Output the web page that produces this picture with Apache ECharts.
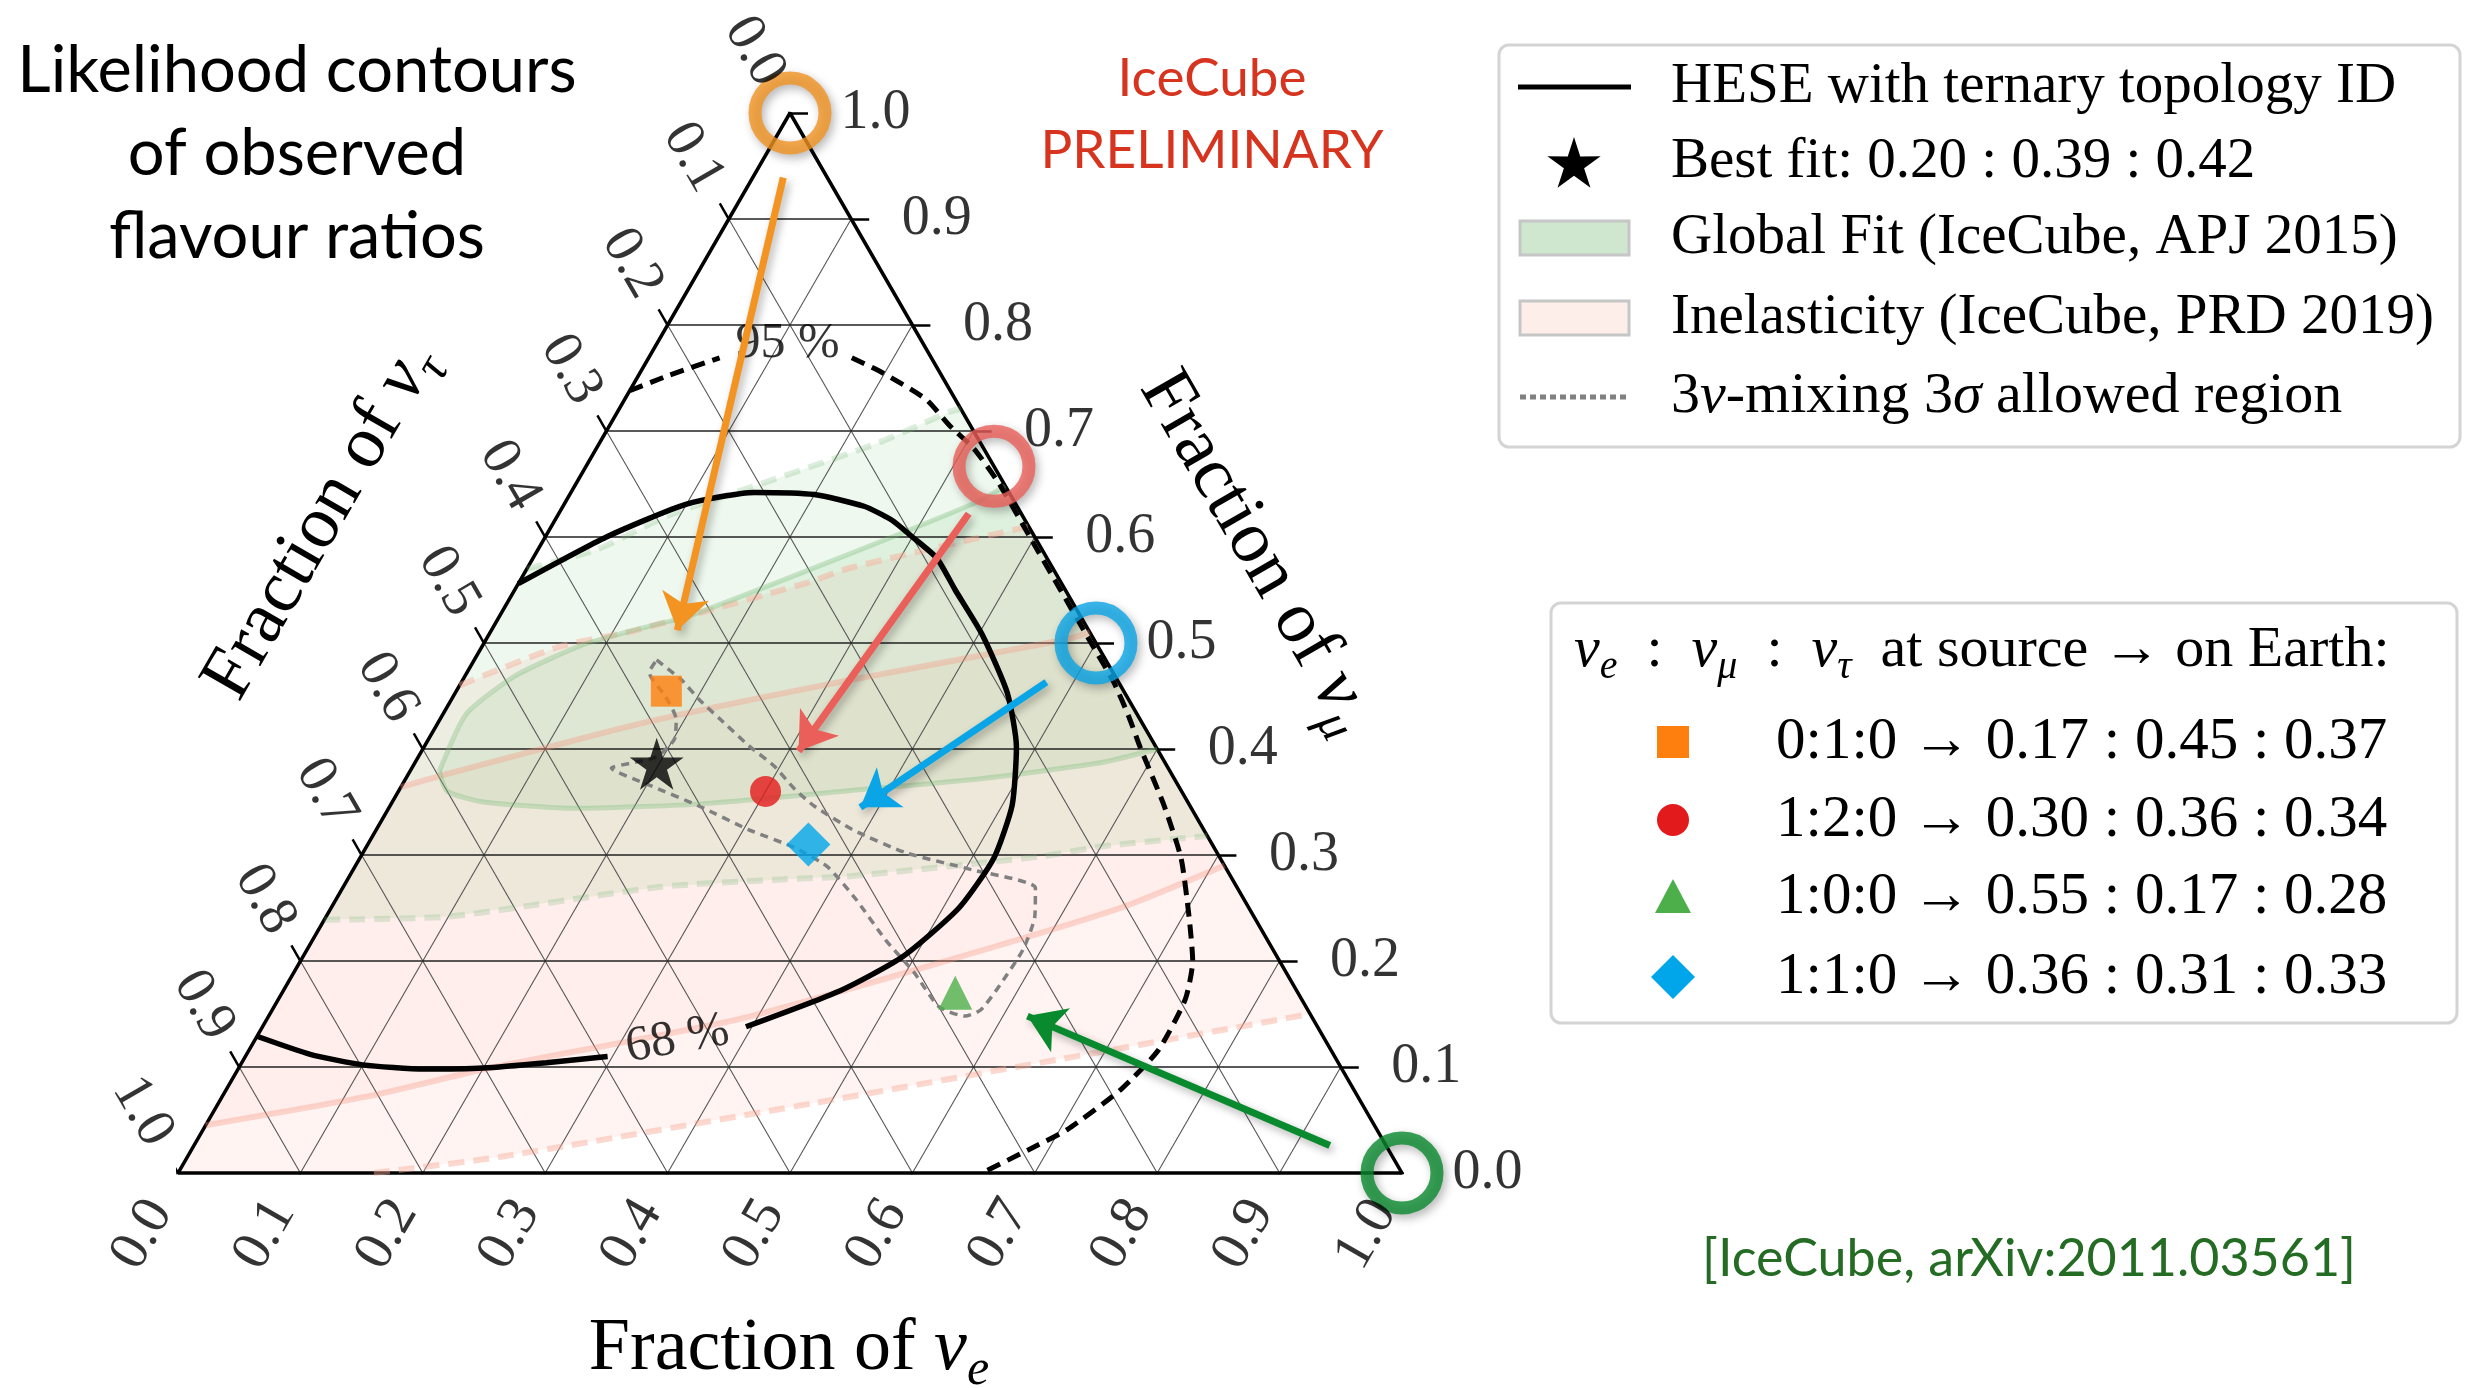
<!DOCTYPE html>
<html>
<head>
<meta charset="utf-8">
<title>Flavour ratio likelihood contours</title>
<script type="text/javascript" src="https://cdn.jsdelivr.net/npm/echarts@6.0.0/dist/echarts.min.js"></script>
<style type="text/css">
html,body{margin:0;padding:0;background:#fff;}
#ternary{width:2468px;height:1388px;}
</style>
</head>
<body>
<div id="ternary"></div>
<script type="text/javascript">
// axis ticks (same for the three sides)
var ticks = [0, 0.1, 0.2, 0.3, 0.4, 0.5, 0.6, 0.7, 0.8, 0.9, 1.0];
var tickLabels = ['0.0', '0.1', '0.2', '0.3', '0.4', '0.5', '0.6', '0.7', '0.8', '0.9', '1.0'];

// all curves are [nu_e, nu_mu] fractions, nu_tau = 1 - the two
var hese68a = [[0.000,0.556],[0.050,0.600],[0.100,0.631],[0.150,0.642],[0.200,0.640],[0.246,0.629],[0.275,0.616],[0.300,0.600],[0.330,0.580],[0.360,0.550],[0.403,0.508],[0.451,0.453],[0.484,0.402],[0.508,0.347],[0.518,0.297],[0.513,0.250],[0.490,0.204],[0.455,0.172],[0.395,0.138]];
var hese68b = [[0.296,0.110],[0.249,0.104],[0.200,0.099],[0.152,0.098],[0.100,0.102],[0.052,0.112],[0.000,0.129]];
var hese95a = [[0.000,0.738],[0.024,0.752],[0.058,0.769]];
var hese95b = [[0.166,0.769],[0.198,0.755],[0.246,0.730],[0.278,0.705],[0.309,0.683],[0.346,0.650],[0.396,0.600],[0.446,0.550],[0.496,0.500],[0.533,0.463],[0.562,0.430],[0.585,0.402],[0.632,0.347],[0.671,0.297],[0.705,0.242],[0.729,0.200],[0.741,0.164],[0.743,0.116],[0.731,0.079],[0.706,0.041],[0.684,0.022],[0.657,0.000]];

var globalUp95 = [[0.000,0.570],[0.048,0.588],[0.090,0.620],[0.153,0.651],[0.228,0.689],[0.271,0.718],[0.279,0.721]];
var globalLow95 = [[0.000,0.239],[0.101,0.242],[0.260,0.270],[0.355,0.277],[0.409,0.280],[0.558,0.299],[0.600,0.308],[0.682,0.318]];
var globalUp68 = [[0.024,0.379],[0.019,0.433],[0.041,0.469],[0.081,0.498],[0.127,0.516],[0.154,0.525],[0.250,0.580],[0.335,0.632],[0.352,0.648]];
var globalLow68 = [[0.024,0.379],[0.040,0.360],[0.075,0.350],[0.152,0.344],[0.251,0.348],[0.380,0.362],[0.470,0.372],[0.560,0.387],[0.600,0.400]];

var inelUp95 = [[0.000,0.460],[0.062,0.496],[0.118,0.512],[0.236,0.557],[0.264,0.571],[0.390,0.610]];
var inelLow95 = [[0.160,0.000],[0.255,0.015],[0.487,0.066],[0.700,0.115],[0.850,0.150]];
var inelUp68 = [[0.000,0.364],[0.033,0.377],[0.172,0.426],[0.316,0.465],[0.473,0.503],[0.490,0.510]];
var inelLow68 = [[0.000,0.045],[0.118,0.072],[0.205,0.099],[0.385,0.145],[0.520,0.197],[0.645,0.250],[0.710,0.290]];

var mixing3s = [[0.149,0.484],[0.179,0.465],[0.202,0.447],[0.229,0.428],[0.265,0.403],[0.295,0.384],[0.323,0.362],[0.347,0.346],[0.389,0.324],[0.444,0.302],[0.506,0.286],[0.566,0.269],[0.579,0.242],[0.585,0.211],[0.583,0.179],[0.579,0.154],[0.569,0.148],[0.543,0.157],[0.507,0.189],[0.468,0.220],[0.425,0.258],[0.386,0.289],[0.350,0.307],[0.304,0.324],[0.253,0.346],[0.202,0.366],[0.163,0.382],[0.178,0.387],[0.195,0.393],[0.201,0.409],[0.193,0.428],[0.173,0.450],[0.149,0.472],[0.149,0.484]];

var contourTags = ['68 %', '95 %'];
var contourTagAt = [[0.345,0.126], [0.107,0.782]];
var contourTagRot = [10, 0];

var bestFit = [0.20, 0.39, 0.42];
var sourceRatios = ['0:1:0', '1:2:0', '1:0:0', '1:1:0'];
var sourcePoints = [[0, 1], [1/3, 2/3], [1, 0], [0.5, 0.5]];
var earthRatios = [[0.17, 0.45, 0.37], [0.30, 0.36, 0.34], [0.55, 0.17, 0.28], [0.36, 0.31, 0.33]];
var arrowFrom = [[0.025, 0.939], [0.335, 0.622], [0.928, 0.026], [0.478, 0.463]];
var arrowTo = [[0.152, 0.512], [0.308, 0.398], [0.620, 0.148], [0.385, 0.345]];

var ringColors = ['#f39322', '#ea5f59', '#0a8a2e', '#0aa5e6'];
var markColors = ['#ff7f0e', '#e31a1c', '#4daf4a', '#00a5ea'];
var markSymbols = ['rect', 'circle', 'triangle', 'diamond'];
var markSizes = [31, 31, 34, 44];

var S = Math.sqrt(3) / 2;
var PX = 1224;          // pixels for one side of the triangle
var serif = 'Liberation Serif';
var starPath = 'path://M50,0L61.17,34.63L97.55,34.55L68.07,55.87L79.39,90.45L50,69L20.61,90.45L31.93,55.87L2.45,34.55L38.83,34.63Z';

function tern(p) {
    var s = p.length > 2 ? p[0] + p[1] + p[2] : 1;
    var e = p[0] / s, m = p[1] / s;
    return [e + m / 2, m * S];
}

function curve(pts, color, width, dash, z, smooth) {
    return {
        type: 'line', data: pts.map(tern), symbol: 'none', showSymbol: false, clip: false,
        silent: true, z: z, smooth: smooth === undefined ? 0.2 : smooth,
        lineStyle: {color: color, width: width, type: dash || 'solid'}
    };
}

function area(pts, fill, z) {
    return {
        type: 'custom', coordinateSystem: 'cartesian2d', silent: true, z: z, data: [[0, 0]],
        renderItem: function (params, api) {
            return {
                type: 'polygon',
                shape: {points: pts.map(function (p) { return api.coord(tern(p)); })},
                style: {fill: fill}
            };
        }
    };
}

// grid lines and ticks
var gridFlat = [], gridSlant = [], tickSegs = [];
var T = 18 / PX;
ticks.forEach(function (v, i) {
    if (i > 0 && i < ticks.length - 1) {
        gridFlat.push({coords: [tern([0, v]), tern([1 - v, v])]});
        gridSlant.push({coords: [tern([v, 0]), tern([v, 1 - v])]});
        gridSlant.push({coords: [tern([1 - v, 0]), tern([0, 1 - v])]});
    }
    var b = tern([v, 0]);
    tickSegs.push({coords: [b, [b[0] - 0.5 * T, b[1] - S * T]]});
    var l = tern([0, 1 - v]);
    tickSegs.push({coords: [l, [l[0] - 0.5 * T, l[1] + S * T]]});
    var r = tern([1 - v, v]);
    tickSegs.push({coords: [r, [r[0] + T, r[1]]]});
});

var D = 36 / PX;
var bottomAt = ticks.map(function (v) { var b = tern([v, 0]); return [b[0] - 0.5 * D, b[1] - S * D]; });
var leftAt = ticks.map(function (v) { var l = tern([0, 1 - v]); return [l[0] - 0.5 * D, l[1] + S * D]; });
var rightAt = ticks.map(function (v) { return tern([1 - v, v]); });

function tickLabelSeries(data, label) {
    label.show = true;
    label.formatter = function (p) { return tickLabels[p.dataIndex]; };
    label.fontFamily = serif;
    label.fontSize = 56;
    label.color = '#000';
    return {
        type: 'scatter', data: data, symbolSize: 1, clip: false, silent: true, z: 10,
        itemStyle: {color: 'rgba(0,0,0,0)'}, label: label
    };
}

function segs(data, color, width, z) {
    return {
        type: 'lines', coordinateSystem: 'cartesian2d', data: data, silent: true, z: z,
        lineStyle: {color: color, width: width, opacity: 1, curveness: 0}
    };
}

var series = [
    area(inelUp95.concat([[0.850, 0.150]], inelLow95.slice().reverse(), [[0, 0]]), 'rgba(250,128,114,0.09)', 1),
    area(inelUp68.concat(inelLow68.slice().reverse()), 'rgba(250,128,114,0.05)', 1),
    area(globalUp95.concat(globalLow95.slice().reverse()), 'rgba(44,160,44,0.08)', 1),
    area(globalUp68.concat(globalLow68.slice().reverse()), 'rgba(44,160,44,0.08)', 1),
    segs(gridSlant, '#555', 1.1, 2),
    segs(gridFlat, '#222', 1.5, 2),
    segs(tickSegs, '#000', 2.5, 2),
    curve([[0, 0], [1, 0], [0, 1], [0, 0]], '#000', 3.5, 'solid', 3, 0),
    curve(inelUp95, 'rgba(248,170,150,0.45)', 6, [16, 9], 3),
    curve(inelLow95, 'rgba(248,170,150,0.45)', 6, [16, 9], 3),
    curve(inelUp68, 'rgba(245,150,130,0.35)', 6, 'solid', 3),
    curve(inelLow68, 'rgba(245,150,130,0.35)', 6, 'solid', 3),
    curve(globalUp95, 'rgba(120,185,120,0.25)', 6, [16, 9], 3),
    curve(globalLow95, 'rgba(120,185,120,0.25)', 6, [16, 9], 3),
    curve(globalUp68, 'rgba(120,185,120,0.35)', 5, 'solid', 3),
    curve(globalLow68, 'rgba(120,185,120,0.35)', 5, 'solid', 3),
    curve(mixing3s, '#808080', 3.5, [8, 6], 4),
    curve(hese68a, '#000', 5.5, 'solid', 5),
    curve(hese68b, '#000', 5.5, 'solid', 5),
    curve(hese95a, '#000', 5, [14, 8], 5),
    curve(hese95b, '#000', 5, [14, 8], 5),
    {
        type: 'scatter', clip: false, silent: true, z: 6,
        data: contourTags.map(function (t, i) { return {value: tern(contourTagAt[i]), label: {rotate: contourTagRot[i]}}; }),
        symbolSize: 1, itemStyle: {color: 'rgba(0,0,0,0)'},
        label: {show: true, position: 'inside', fontFamily: serif, fontSize: 50, color: '#000',
            formatter: function (p) { return contourTags[p.dataIndex]; }}
    },
    {
        type: 'scatter', clip: false, silent: true, z: 7,
        data: earthRatios.map(function (r, i) {
            return {value: tern(r), symbol: markSymbols[i], symbolSize: markSizes[i], itemStyle: {color: markColors[i]}};
        })
    },
    {
        type: 'scatter', clip: false, silent: true, z: 7, symbol: starPath, symbolSize: [54, 52],
        data: [tern(bestFit)], itemStyle: {color: '#000'}
    }
];

arrowFrom.forEach(function (a, i) {
    series.push({
        type: 'lines', coordinateSystem: 'cartesian2d', silent: true, z: 8,
        symbol: ['none', 'arrow'], symbolSize: [0, 36],
        data: [{coords: [tern(a), tern(arrowTo[i])]}],
        lineStyle: {color: ringColors[i], width: 7, opacity: 1, curveness: 0,
            shadowBlur: 8, shadowColor: 'rgba(0,0,0,0.3)', shadowOffsetX: 3, shadowOffsetY: 4}
    });
});

series.push({
    type: 'scatter', clip: false, silent: true, z: 9, symbol: 'circle', symbolSize: 70,
    data: sourcePoints.map(function (p, i) { return {value: tern(p), itemStyle: {borderColor: ringColors[i]}}; }),
    itemStyle: {color: 'rgba(255,255,255,0)', borderWidth: 13,
        shadowBlur: 10, shadowColor: 'rgba(0,0,0,0.35)', shadowOffsetX: 3, shadowOffsetY: 4}
});

series.push(tickLabelSeries(bottomAt, {position: 'inside', align: 'right', verticalAlign: 'middle', rotate: 60}));
series.push(tickLabelSeries(leftAt, {position: 'inside', align: 'right', verticalAlign: 'middle', rotate: -60}));
series.push(tickLabelSeries(rightAt, {position: 'right', distance: 50}));

// text pieces with greek subscripts
var richSerif = {
    t: {fontFamily: serif, fontSize: 58, lineHeight: 72, fill: '#000'},
    nu: {fontFamily: serif, fontSize: 58, lineHeight: 72, fontStyle: 'italic', fill: '#000'},
    sb: {fontFamily: serif, fontSize: 40, lineHeight: 40, fontStyle: 'italic', verticalAlign: 'bottom', fill: '#000'}
};
var richTitle = {
    t: {fontFamily: serif, fontSize: 74, lineHeight: 92, fill: '#000'},
    nu: {fontFamily: serif, fontSize: 74, lineHeight: 92, fontStyle: 'italic', fill: '#000'},
    sb: {fontFamily: serif, fontSize: 50, lineHeight: 50, fontStyle: 'italic', verticalAlign: 'bottom', fill: '#000'}
};

function txt(x, y, text, opts) {
    var st = {text: text, fill: '#000', align: opts.align || 'left', verticalAlign: 'middle'};
    if (opts.font) st.font = opts.font;
    if (opts.rich) st.rich = opts.rich;
    if (opts.fill) st.fill = opts.fill;
    if (opts.lineHeight) st.lineHeight = opts.lineHeight;
    return {type: 'text', x: x, y: y, rotation: opts.rotation || 0, z: 20, style: st};
}

var rowY1 = [87, 162, 238, 318, 397];
var rowY2 = [742, 820, 897, 977];
var legendFont = '57px "Liberation Serif"';
var ratioFont = '59px "Liberation Serif"';

function starPoints(cx, cy, r) {
    var pts = [];
    for (var k = 0; k < 10; k++) {
        var a = -Math.PI / 2 + k * Math.PI / 5, rr = k % 2 ? r * 0.38 : r;
        pts.push([cx + rr * Math.cos(a), cy + rr * Math.sin(a)]);
    }
    return pts;
}

var graphics = [
    txt(297, 154, 'Likelihood contours\nof observed\nflavour ratios', {font: '65px Lato', align: 'center', lineHeight: 83}),
    txt(1212, 79, 'IceCube', {font: '53px Lato', align: 'center', fill: '#d6341f'}),
    txt(1212, 151, 'PRELIMINARY', {font: '53px Lato', align: 'center', fill: '#d6341f'}),
    txt(2029, 1259, '[IceCube, arXiv:2011.03561]', {font: '52px Lato', align: 'center', fill: '#246b24'}),
    txt(789, 1350, '{t|Fraction of }{nu|ν}{sb|e}', {rich: richTitle, align: 'center'}),
    txt(321, 522, '{t|Fraction of }{nu|ν}{sb|τ}', {rich: richTitle, align: 'center', rotation: Math.PI / 3}),
    txt(1257, 552, '{t|Fraction of }{nu|ν}{sb|μ}', {rich: richTitle, align: 'center', rotation: -Math.PI / 3}),

    {type: 'rect', z: 15, shape: {x: 1499, y: 45, width: 961, height: 402, r: 10}, style: {fill: '#fff', stroke: '#d4d4d4', lineWidth: 3}},
    {type: 'line', z: 20, shape: {x1: 1518, y1: rowY1[0], x2: 1631, y2: rowY1[0]}, style: {stroke: '#000', lineWidth: 5}},
    {type: 'polygon', z: 20, shape: {points: starPoints(1574, rowY1[1] + 3, 28)}, style: {fill: '#000'}},
    {type: 'rect', z: 20, shape: {x: 1520, y: rowY1[2] - 17, width: 109, height: 34}, style: {fill: '#cfe7cf', stroke: '#c6c6c6', lineWidth: 3}},
    {type: 'rect', z: 20, shape: {x: 1520, y: rowY1[3] - 17, width: 109, height: 34}, style: {fill: '#fdeee9', stroke: '#c6c6c6', lineWidth: 3}},
    {type: 'line', z: 20, shape: {x1: 1520, y1: rowY1[4], x2: 1629, y2: rowY1[4]}, style: {stroke: '#808080', lineWidth: 5, lineDash: [6, 4]}},
    txt(1671, rowY1[0], 'HESE with ternary topology ID', {font: legendFont}),
    txt(1671, rowY1[1], 'Best fit: ' + bestFit.map(function (v) { return v.toFixed(2); }).join(' : '), {font: legendFont}),
    txt(1671, rowY1[2], 'Global Fit (IceCube, APJ 2015)', {font: legendFont}),
    txt(1671, rowY1[3], 'Inelasticity (IceCube, PRD 2019)', {font: legendFont}),
    txt(1671, rowY1[4], '{t|3}{nu|ν}{t|-mixing 3}{nu|σ}{t| allowed region}', {rich: richSerif}),

    {type: 'rect', z: 15, shape: {x: 1551, y: 603, width: 906, height: 420, r: 10}, style: {fill: '#fff', stroke: '#d4d4d4', lineWidth: 3}},
    txt(1574, 651, '{nu|ν}{sb|e}{t|  :  }{nu|ν}{sb|μ}{t|  :  }{nu|ν}{sb|τ}{t|  at source → on Earth:}', {rich: richSerif}),
    {type: 'rect', z: 20, shape: {x: 1657, y: rowY2[0] - 16, width: 32, height: 32}, style: {fill: markColors[0]}},
    {type: 'circle', z: 20, shape: {cx: 1673, cy: rowY2[1], r: 16}, style: {fill: markColors[1]}},
    {type: 'polygon', z: 20, shape: {points: [[1673, rowY2[2] - 18], [1691, rowY2[2] + 16], [1655, rowY2[2] + 16]]}, style: {fill: markColors[2]}},
    {type: 'polygon', z: 20, shape: {points: [[1673, rowY2[3] - 22], [1695, rowY2[3]], [1673, rowY2[3] + 22], [1651, rowY2[3]]]}, style: {fill: markColors[3]}}
];
sourceRatios.forEach(function (s, i) {
    graphics.push(txt(1776, rowY2[i], s + ' → ' + earthRatios[i].map(function (v) { return v.toFixed(2); }).join(' : '), {font: ratioFont}));
});

var chart = echarts.init(document.getElementById('ternary'));
chart.setOption({
    animation: false,
    backgroundColor: '#fff',
    grid: {left: 178, top: 113, width: 1224, height: 1060, outerBoundsMode: 'none'},
    xAxis: {type: 'value', min: 0, max: 1, show: false},
    yAxis: {type: 'value', min: 0, max: S, show: false},
    graphic: {elements: graphics},
    series: series
});
window.onresize = chart.resize;
</script>
</body>
</html>
